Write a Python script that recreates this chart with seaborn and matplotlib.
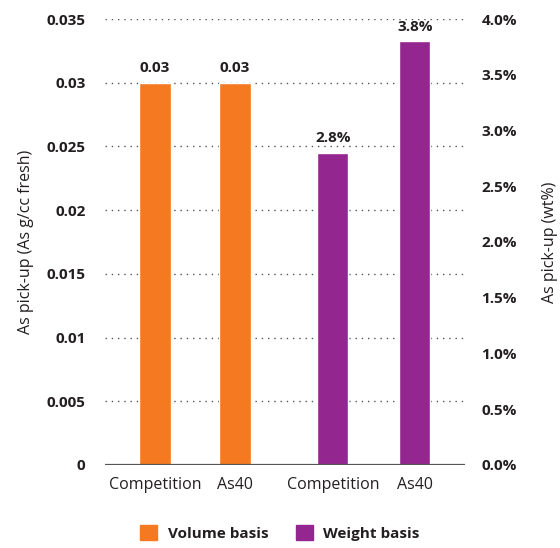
import matplotlib
matplotlib.use('Agg')
import numpy as np
import pandas as pd
import seaborn as sns
from matplotlib import pyplot as plt
from matplotlib.patches import Patch
from matplotlib.ticker import FuncFormatter

# 数据
categories = ['Competition', 'As40', 'Competition', 'As40']
volume_values = [0.03, 0.03]        # As g/cc fresh
weight_values = [2.8, 3.8]          # wt%
volume_labels = ['0.03', '0.03']
weight_labels = ['2.8%', '3.8%']

orange = '#F47920'
purple = '#93278F'
text_c = '#231F20'

sns.set_style('white')
plt.rcParams['font.family'] = ['Open Sans', 'DejaVu Sans']

pos = [0, 1, 2.225, 3.25]
df_vol = pd.DataFrame({'pos': pos[:2], 'value': volume_values})
df_wt = pd.DataFrame({'pos': pos[2:], 'value': weight_values})

fig = plt.figure(figsize=(5.6, 5.48), dpi=100)
ax = fig.add_axes([0.1875, 0.1515, 0.6425, 0.8138])
ax2 = ax.twinx()

sns.barplot(data=df_vol, x='pos', y='value', native_scale=True, width=0.39,
            color=orange, saturation=1, ax=ax)
sns.barplot(data=df_wt, x='pos', y='value', native_scale=True, width=0.38,
            color=purple, saturation=1, ax=ax2)

ax.set_xlim(-0.625, 3.875)
ax.set_ylim(0, 0.035)
ax2.set_ylim(0, 4.0)
ax.set_yticks(np.arange(0, 0.0351, 0.005))
ax2.set_yticks(np.arange(0, 4.01, 0.5))
ax.yaxis.set_major_formatter(FuncFormatter(lambda v, p: '{:g}'.format(round(v, 3))))
ax2.yaxis.set_major_formatter(FuncFormatter(lambda v, p: '{:.1f}%'.format(v)))

ax.set_xticks(pos)
ax.set_xticklabels(categories, fontsize=11.5, color=text_c)
ax.tick_params(axis='x', length=0, pad=9)
ax.tick_params(axis='y', length=0, pad=14, labelsize=11, colors=text_c)
ax2.tick_params(axis='y', length=0, pad=12, labelsize=11, colors=text_c)
for t in ax.get_yticklabels() + ax2.get_yticklabels():
    t.set_fontweight('bold')

# 虚线网格
for v in np.arange(0.005, 0.0351, 0.005):
    ax.axhline(v, color='#555555', lw=1, ls=(0, (1, 3.5)), zorder=0)
ax.set_axisbelow(True)
ax2.axhline(0, color='#555555', lw=1.6, zorder=5)

for s in ['top', 'right', 'left', 'bottom']:
    ax.spines[s].set_visible(False)
    ax2.spines[s].set_visible(False)

ax.set_xlabel('')
ax.set_ylabel('As pick-up (As g/cc fresh)', fontsize=11.5, color=text_c, labelpad=9)
ax2.set_ylabel('As pick-up (wt%)', fontsize=11.5, color=text_c, rotation=90, labelpad=18)

for x, v, lab in zip(pos[:2], volume_values, volume_labels):
    ax.text(x, v + 0.0006, lab, ha='center', va='bottom', fontsize=11,
            fontweight='bold', color=text_c)
for x, v, lab in zip(pos[2:], weight_values, weight_labels):
    ax2.text(x, v + 0.07, lab, ha='center', va='bottom', fontsize=11,
             fontweight='bold', color=text_c)

handles = [Patch(color=orange, label='Volume basis'), Patch(color=purple, label='Weight basis')]
leg = fig.legend(handles=handles, loc='lower center', bbox_to_anchor=(0.5, -0.012), ncol=2,
                 frameon=False, handlelength=1.1, handleheight=1.1, columnspacing=1.8,
                 handletextpad=0.7, prop={'weight': 'bold', 'size': 11})
for t in leg.get_texts():
    t.set_color(text_c)

fig.savefig('out.png', dpi=100)
